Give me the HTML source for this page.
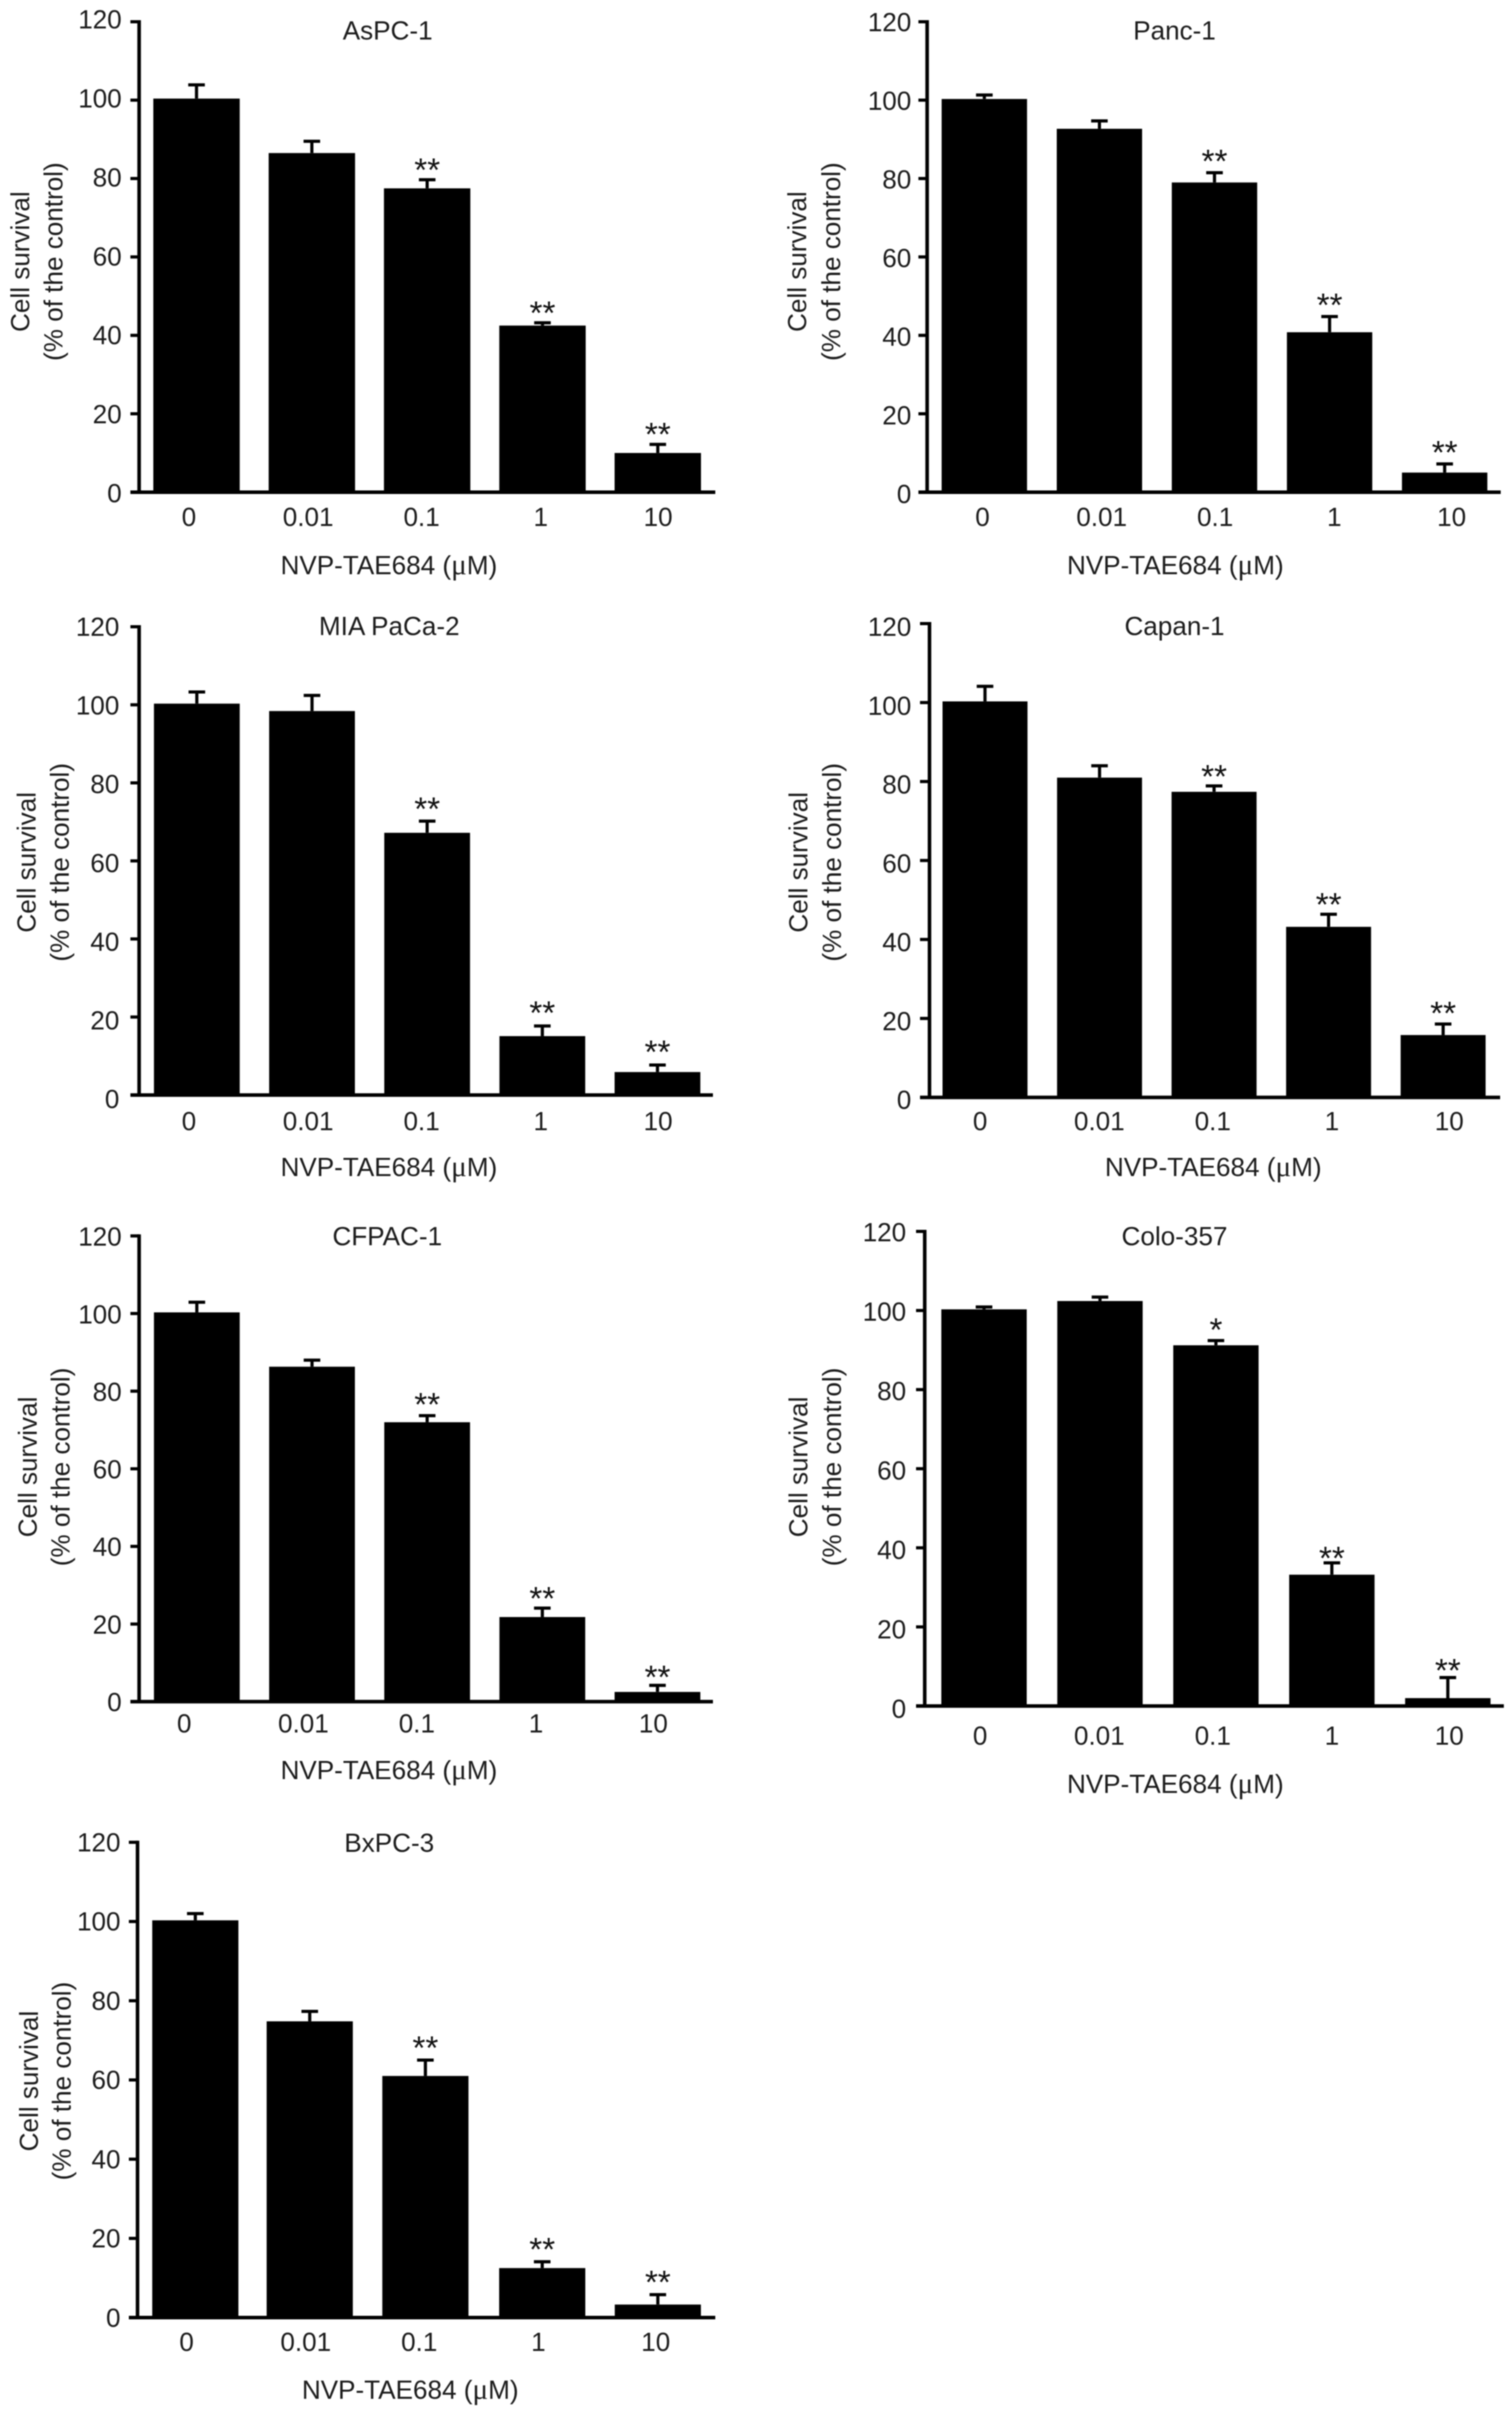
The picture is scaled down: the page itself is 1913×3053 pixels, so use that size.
<!DOCTYPE html>
<html lang="en">
<head>
<meta charset="utf-8">
<title>Cell survival after NVP-TAE684 treatment</title>
<style>
  html, body { margin: 0; padding: 0; background: #fff; }
  #figure { display: block; width: 1913px; height: 3053px; filter: blur(0.7px); }
  text { font-family: "Liberation Sans", Arial, sans-serif; font-size: 33px; fill: #1c1c1c; }
  .mu { font-family: "Liberation Serif", serif; font-size: 37px; }
  .star { font-size: 42px; fill: #111; }
</style>
</head>
<body>
<svg id="figure" xmlns="http://www.w3.org/2000/svg" width="1913" height="3053" viewBox="0 0 1913 3053">
  <rect x="0" y="0" width="1913" height="3053" fill="#fff"/>

  <g id="panel-aspc1">
    <text x="490.5" y="50" text-anchor="middle">AsPC-1</text>
    <text transform="translate(37,331) rotate(-90)" text-anchor="middle">Cell survival</text>
    <text transform="translate(79,331) rotate(-90)" text-anchor="middle">(% of the control)</text>
    <text x="492" y="726.5" text-anchor="middle">NVP-TAE684 (<tspan class="mu">μ</tspan>M)</text>
  </g>

  <g id="panel-panc1">
    <text x="1486" y="50" text-anchor="middle">Panc-1</text>
    <text transform="translate(1020,331) rotate(-90)" text-anchor="middle">Cell survival</text>
    <text transform="translate(1063,331) rotate(-90)" text-anchor="middle">(% of the control)</text>
    <text x="1487" y="726.5" text-anchor="middle">NVP-TAE684 (<tspan class="mu">μ</tspan>M)</text>
  </g>

  <g id="panel-miapaca2">
    <text x="492.5" y="803.5" text-anchor="middle">MIA PaCa-2</text>
    <text transform="translate(45,1091) rotate(-90)" text-anchor="middle">Cell survival</text>
    <text transform="translate(87,1091) rotate(-90)" text-anchor="middle">(% of the control)</text>
    <text x="492" y="1488" text-anchor="middle">NVP-TAE684 (<tspan class="mu">μ</tspan>M)</text>
  </g>

  <g id="panel-capan1">
    <text x="1486" y="803.5" text-anchor="middle">Capan-1</text>
    <text transform="translate(1021.5,1091) rotate(-90)" text-anchor="middle">Cell survival</text>
    <text transform="translate(1064,1091) rotate(-90)" text-anchor="middle">(% of the control)</text>
    <text x="1535" y="1488" text-anchor="middle">NVP-TAE684 (<tspan class="mu">μ</tspan>M)</text>
  </g>

  <g id="panel-cfpac1">
    <text x="490" y="1575.5" text-anchor="middle">CFPAC-1</text>
    <text transform="translate(46.5,1856) rotate(-90)" text-anchor="middle">Cell survival</text>
    <text transform="translate(88,1856) rotate(-90)" text-anchor="middle">(% of the control)</text>
    <text x="492" y="2251" text-anchor="middle">NVP-TAE684 (<tspan class="mu">μ</tspan>M)</text>
  </g>

  <g id="panel-colo357">
    <text x="1486" y="1575.5" text-anchor="middle">Colo-357</text>
    <text transform="translate(1021.5,1856) rotate(-90)" text-anchor="middle">Cell survival</text>
    <text transform="translate(1064,1856) rotate(-90)" text-anchor="middle">(% of the control)</text>
    <text x="1487" y="2268.5" text-anchor="middle">NVP-TAE684 (<tspan class="mu">μ</tspan>M)</text>
  </g>

  <g id="panel-bxpc3">
    <text x="492.5" y="2343" text-anchor="middle">BxPC-3</text>
    <text transform="translate(48,2633) rotate(-90)" text-anchor="middle">Cell survival</text>
    <text transform="translate(89.5,2633) rotate(-90)" text-anchor="middle">(% of the control)</text>
    <text x="519" y="3035" text-anchor="middle">NVP-TAE684 (<tspan class="mu">μ</tspan>M)</text>
  </g>
</svg>

<script>
// Shared axis content
const categories = ['0', '0.01', '0.1', '1', '10'];
const yTicks = [0, 20, 40, 60, 80, 100, 120];

// Mean survival, error-bar height, significance marks
const aspc1Values = [100.4, 86.5, 77.5, 42.5, 10];
const aspc1Errors = [3.5, 3, 2.2, 0.7, 2.2];
const aspc1Stars = ['', '', '**', '**', '**'];

const panc1Values = [100.3, 92.7, 79, 40.8, 5];
const panc1Errors = [1, 2, 2.5, 4, 2.2];
const panc1Stars = ['', '', '**', '**', '**'];

const miapaca2Values = [100.3, 98.4, 67.2, 15.1, 5.9];
const miapaca2Errors = [3, 4, 3, 2.6, 1.8];
const miapaca2Stars = ['', '', '**', '**', '**'];

const capan1Values = [100.3, 81, 77.4, 43.2, 15.8];
const capan1Errors = [3.8, 3, 1.5, 3.2, 2.8];
const capan1Stars = ['', '', '**', '**', '**'];

const cfpac1Values = [100.3, 86.3, 72, 21.8, 2.5];
const cfpac1Errors = [2.6, 1.7, 1.7, 2.3, 1.7];
const cfpac1Stars = ['', '', '**', '**', '**'];

const colo357Values = [100.3, 102.4, 91.2, 33.2, 2];
const colo357Errors = [0.6, 1, 1.2, 3, 5.2];
const colo357Stars = ['', '', '*', '**', '**'];

const bxpc3Values = [100.3, 74.8, 61, 12.5, 3.3];
const bxpc3Errors = [1.7, 2.5, 4, 1.6, 2.5];
const bxpc3Stars = ['', '', '**', '**', '**'];

const yMax = 120;
const SVG_NS = 'http://www.w3.org/2000/svg';

function svgEl(tag, attrs, parent) {
  const el = document.createElementNS(SVG_NS, tag);
  for (const k in attrs) el.setAttribute(k, attrs[k]);
  parent.appendChild(el);
  return el;
}

function drawPanel(groupId, values, errors, stars, box) {
  const g = document.getElementById(groupId);
  const yScale = v => box.y0 - (v / yMax) * (box.y0 - box.yTop);
  const barLeft = i => box.barStart + i * box.barStep + (box.barNudge ? box.barNudge[i] : 0);
  const barCenter = i => barLeft(i) + box.barWidth / 2;
  // tick labels in the figure sit on a slightly uneven spacing
  const labelX = i => box.labelStart + i * 148.4 + [0, 2.5, -2.4, 0, 0][i];

  categories.forEach((cat, i) => {
    const bar = svgEl('rect', {
      x: barLeft(i), y: yScale(values[i]), width: box.barWidth,
      height: box.y0 - yScale(values[i]), fill: '#000'
    }, g);
    
    

    const capY = yScale(values[i] + errors[i]);
    const stem = svgEl('line', {
      x1: barCenter(i), x2: barCenter(i), y1: yScale(values[i]), y2: capY,
      stroke: '#000', 'stroke-width': 4
    }, g);
    
    

    const cap = svgEl('line', {
      x1: barCenter(i) - 10.5, x2: barCenter(i) + 10.5, y1: capY, y2: capY,
      stroke: '#000', 'stroke-width': 4
    }, g);
    
    

    if (stars[i]) {
      const star = svgEl('text', {
        x: barCenter(i), y: capY + box.starGaps[i - 2], 'text-anchor': 'middle', class: 'star'
      }, g);
      star.textContent = stars[i];
      
      
    }

    const label = svgEl('text', {
      x: labelX(i), y: box.labelY, 'text-anchor': 'middle'
    }, g);
    label.textContent = cat;
    
    
  });

  yTicks.forEach(t => {
    const tick = svgEl('line', {
      x1: box.tickLeft, x2: box.axisX, y1: yScale(t), y2: yScale(t),
      stroke: '#000', 'stroke-width': 4
    }, g);
    
    

    const shift = box.shift0 + (box.shift120 - box.shift0) * t / yMax;
    const label = svgEl('text', {
      x: box.tickLeft - box.labelGap, y: yScale(t) + 11.5 + shift, 'text-anchor': 'end'
    }, g);
    label.textContent = String(t);
    
    
  });

  const yAxis = svgEl('line', {
    x1: box.axisX, x2: box.axisX, y1: box.yTop - 2, y2: box.y0 + 2,
    stroke: '#000', 'stroke-width': 4.5
  }, g);
  
  

  const xAxis = svgEl('line', {
    x1: box.tickLeft, x2: box.axisEnd, y1: box.y0, y2: box.y0,
    stroke: '#000', 'stroke-width': 4.5
  }, g);
  
  
}

drawPanel('panel-aspc1', aspc1Values, aspc1Errors, aspc1Stars,
  { axisX: 176, tickLeft: 165, axisEnd: 905, y0: 622.7, yTop: 27.5, barStart: 194, barStep: 145.9, barWidth: 109.3, labelStart: 239, labelY: 665.5, starGaps: [2, 2, 2], labelGap: 11, shift0: 1.3, shift120: -3 });
drawPanel('panel-panc1', panc1Values, panc1Errors, panc1Stars,
  { axisX: 1173, tickLeft: 1162, axisEnd: 1898.7, y0: 622.7, yTop: 27.5, barStart: 1191.4, barStep: 145.6, barWidth: 108, labelStart: 1243, labelY: 665.5, starGaps: [0, 0, 0], labelGap: 9, shift0: 2.4, shift120: 0.5 });
drawPanel('panel-miapaca2', miapaca2Values, miapaca2Errors, miapaca2Stars,
  { axisX: 176, tickLeft: 165, axisEnd: 902, y0: 1385.5, yTop: 793, barStart: 194.8, barStep: 145.7, barWidth: 108.5, labelStart: 239, labelY: 1430, starGaps: [-1, -2, -2], labelGap: 14, shift0: 5, shift120: 0 });
drawPanel('panel-capan1', capan1Values, capan1Errors, capan1Stars,
  { axisX: 1176, tickLeft: 1164, axisEnd: 1898, y0: 1388.5, yTop: 789, barStart: 1192.5, barStep: 144.9, barWidth: 107.5, labelStart: 1240, labelY: 1430, starGaps: [2.5, 2.5, 1], labelGap: 11, shift0: 3, shift120: 4 });
drawPanel('panel-cfpac1', cfpac1Values, cfpac1Errors, cfpac1Stars,
  { axisX: 176, tickLeft: 165, axisEnd: 902, y0: 2153, yTop: 1563.7, barStart: 194.8, barStep: 145.7, barWidth: 108.5, labelStart: 233, labelY: 2192, starGaps: [0.5, 2.5, 4], labelGap: 11, shift0: 0.5, shift120: 1 });
drawPanel('panel-colo357', colo357Values, colo357Errors, colo357Stars,
  { axisX: 1170, tickLeft: 1159, axisEnd: 1902.7, y0: 2158.5, yTop: 1558, barStart: 1191, barStep: 146.7, barWidth: 108, labelStart: 1240, labelY: 2207.4, starGaps: [1, 8.5, 5.5], labelGap: 12.5, shift0: 3.5, shift120: 1 });
drawPanel('panel-bxpc3', bxpc3Values, bxpc3Errors, bxpc3Stars,
  { axisX: 174, tickLeft: 163, axisEnd: 905, y0: 2932.3, yTop: 2330.9, barStart: 192.6, barStep: 146.3, barWidth: 109, barNudge: [0, -1.5, -1.5, 0, 0], labelStart: 236, labelY: 2974.5, starGaps: [-1, -1, -1], labelGap: 10.5, shift0: 0, shift120: 0 });
</script>
</body>
</html>
